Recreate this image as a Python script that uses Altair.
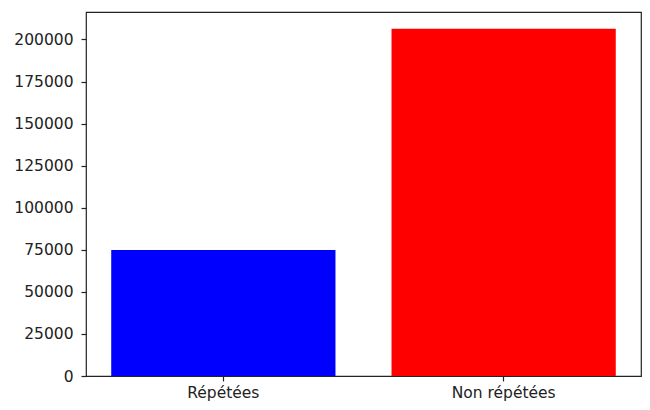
import altair as alt
import pandas as pd

categories = ["Répétées", "Non répétées"]
counts = [74900, 206400]
colors = ["#0000ff", "#ff0000"]

df = pd.DataFrame({"cat": categories, "count": counts, "color": colors})

font = "DejaVu Sans"

chart = alt.Chart(df).mark_bar().encode(
    x=alt.X("cat:N", sort=categories, title=None,
            scale=alt.Scale(paddingInner=0.2, paddingOuter=0.09),
            axis=alt.Axis(labelAngle=0, domain=False, tickSize=5, tickWidth=1.2,
                          tickColor="#222", labelPadding=4, labelFontSize=15.5,
                          labelFont=font, labelColor="#222", grid=False)),
    y=alt.Y("count:Q", title=None,
            scale=alt.Scale(domain=[0, 216300], nice=False, zero=True),
            axis=alt.Axis(values=list(range(0, 200001, 25000)), format="d",
                          domain=False, tickSize=5, tickWidth=1.2, tickColor="#222",
                          labelPadding=8, labelFontSize=15.5, labelFont=font,
                          labelColor="#222", grid=False)),
    color=alt.Color("color:N", scale=None),
).properties(
    width=555, height=364,
    autosize=alt.AutoSizeParams(type="none"),
    padding={"left": 78, "top": 4, "right": 1, "bottom": 26},
).configure_view(
    stroke="#222", strokeWidth=1.2
)

chart.save("out.html", embed_options={"renderer": "svg", "actions": False})
